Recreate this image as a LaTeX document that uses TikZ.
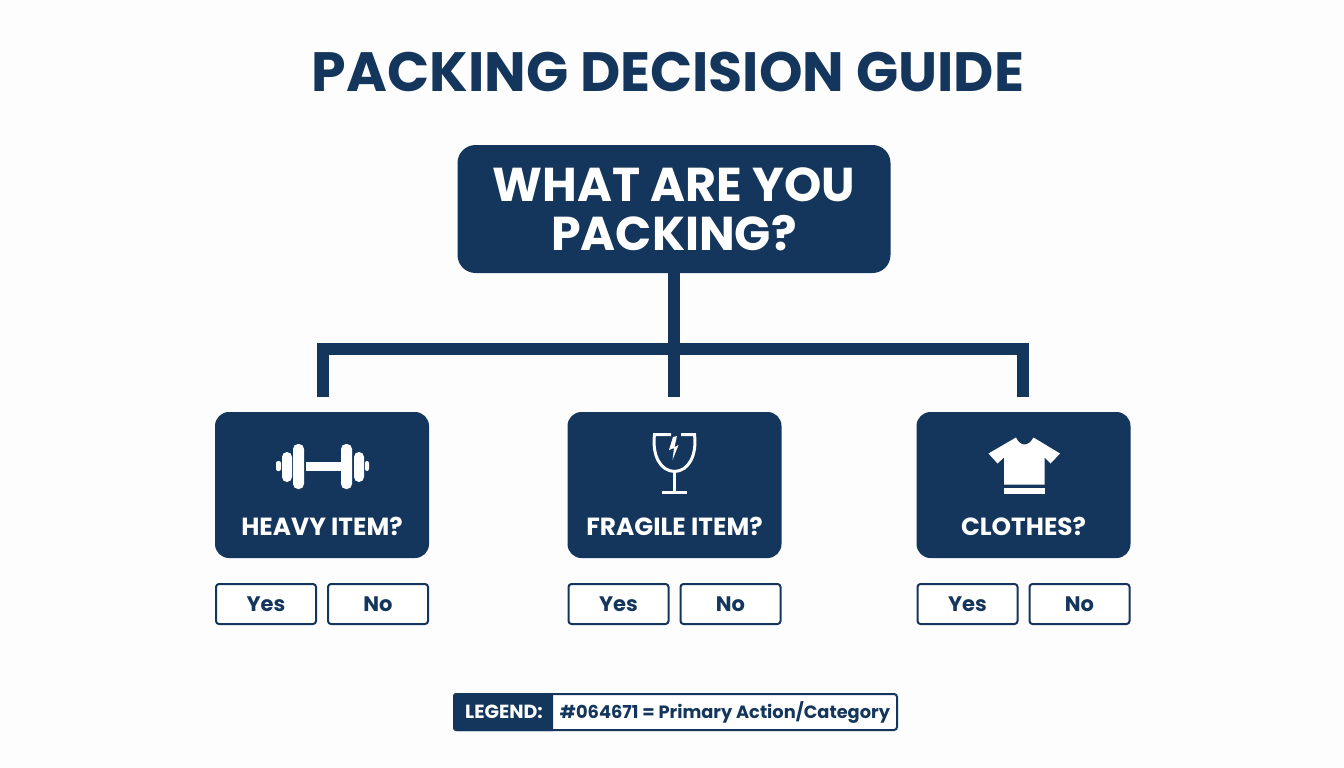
\documentclass[tikz,border=0pt]{standalone}
\usepackage{fontspec}
\setmainfont{Poppins}
\definecolor{packnavy}{RGB}{20, 54, 92}
\definecolor{packpaper}{RGB}{253, 253, 253}
\tikzset{
    askbox/.style={fill=packnavy, rounded corners=18pt, minimum width=433pt, minimum height=128pt, inner sep=0pt, outer sep=0pt, align=center, text=white, font=\fontsize{47.5}{49}\selectfont\bfseries},
    itembox/.style={fill=packnavy, rounded corners=14pt, minimum width=214pt, minimum height=146pt, inner sep=0pt, outer sep=0pt},
    itemlabel/.style={text=white, inner sep=0pt, font=\fontsize{24.8}{26}\selectfont\bfseries},
    choicebox/.style={draw=packnavy, line width=2pt, fill=white, rounded corners=3pt, minimum width=100pt, minimum height=40pt, inner sep=0pt, outer sep=0pt, text=packnavy, font=\fontsize{21}{23}\selectfont\bfseries},
    linkline/.style={draw=packnavy, line width=12pt},
    iconline/.style={draw=white, line width=3pt},
    legendtxt/.style={inner sep=0pt, font=\fontsize{17.8}{20}\selectfont\bfseries}
}
\begin{document}
\begin{tikzpicture}[x=1pt,y=-1pt]
\useasboundingbox[fill=packpaper] (0,0) rectangle (1344,768);

% Title
\node[text=packnavy, inner sep=0pt, font=\fontsize{55.4}{57}\selectfont\bfseries] (title) at (668,72) {PACKING DECISION GUIDE};

% Top question
\node[askbox] (ask) at (674,209) {WHAT ARE YOU\\PACKING?};

% Item boxes with their answers
\foreach \name/\cx/\label in {heavy/322/HEAVY ITEM?, fragile/674.5/FRAGILE ITEM?, clothes/1023.5/CLOTHES?} {
    \node[itembox] (\name) at (\cx,485) {};
    \node[itemlabel] (\name label) at (\cx,526) {\label};
    \node[choicebox] (\name yes) at (\cx-56,604) {Yes};
    \node[choicebox] (\name no) at (\cx+56,604) {No};
}

% Connectors
\coordinate (barleft) at (322.5,349);
\coordinate (barmid) at (674,349);
\coordinate (barright) at (1023,349);
\coordinate (endleft) at (322.5,397);
\coordinate (endmid) at (674,397);
\coordinate (endright) at (1023,397);
\draw[linkline] (ask.south) -- (barmid) -- (endmid);
\draw[linkline] (endleft) -- (barleft) -- (barright) -- (endright);

% Dumbbell
\foreach \xa/\xb/\ya/\yb/\r in {306/341/462/471/0, 293/304/444/489/5, 341/352/444/489/5, 282/292/452/482/5, 354/364/452/482/5, 276/281/461/471/2, 365/369/461/471/2} {
    \fill[white, rounded corners=\r pt] (\xa,\ya) rectangle (\xb,\yb);
}

% Broken glass
\draw[iconline] (671,434.5) -- (654.5,434.5) .. controls (652,455) and (660,471) .. (674.5,471.5) .. controls (689,471) and (697,455) .. (694.5,434.5) -- (681,434.5);
\draw[iconline] (674.5,471.5) -- (674.5,492);
\draw[iconline] (662,492.5) -- (687,492.5);
\fill[white] (673,437) -- (669,450) -- (674,448) -- (672.5,460) -- (678.5,445) -- (674.5,447) -- (677,436) -- cycle;

% Shirt
\fill[white] (1016,437.5) .. controls (1018,442) and (1021,444.5) .. (1024.5,444.5) .. controls (1028,444.5) and (1031,442) .. (1033.5,437.5) -- (1060,453.5) -- (1050.5,463.5) -- (1044.5,457.5) -- (1044.5,484.5) -- (1004,484.5) -- (1004,457.5) -- (997.5,463.5) -- (988.5,453.5) -- cycle;
\fill[white] (1004,488) rectangle (1044.5,494);

% Legend
\node[draw=packnavy, line width=2pt, fill=white, rounded corners=3pt, minimum width=443pt, minimum height=36pt, inner sep=0pt] (legendbox) at (675.5,712) {};
\fill[packnavy] (553,731) [rounded corners=3pt] -- (453,731) -- (453,693) [sharp corners] -- (553,693) -- cycle;
\node[legendtxt, text=white, font=\fontsize{19}{21}\selectfont\bfseries] (legendkey) at (504,712) {LEGEND:};
\node[legendtxt, text=packnavy] (legendtext) at (725,712) {\#064671 = Primary Action/Category};
\end{tikzpicture}
\end{document}
